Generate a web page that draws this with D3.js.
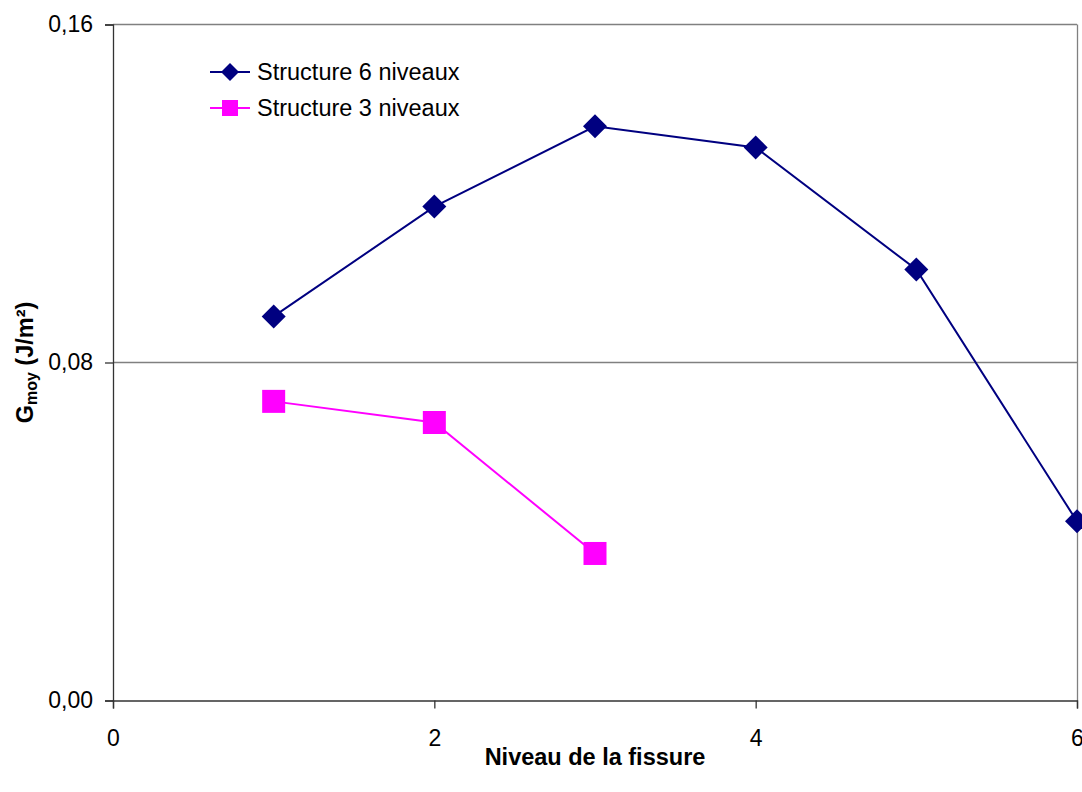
<!DOCTYPE html>
<html><head><meta charset="utf-8">
<script src="https://cdn.jsdelivr.net/npm/d3@7"></script>
<style>body{margin:0;background:#fff;} svg{display:block;font-family:Arial,"Liberation Sans",sans-serif;}</style>
</head><body><svg id="c" width="1082" height="792"></svg>
<script>
const xValues6 = [1, 2, 3, 4, 5, 6];
const values6 = [0.0909, 0.1169, 0.1359, 0.1309, 0.1020, 0.0424];
const xValues3 = [1, 2, 3];
const values3 = [0.0708, 0.0658, 0.0348];
const seriesNames = ["Structure 6 niveaux", "Structure 3 niveaux"];
const xTicks = [0, 2, 4, 6];
const yTicks = [0, 0.08, 0.16];

const svg = d3.select("#c");
const FF = "Arial,'Liberation Sans',sans-serif";
const L = 113, R = 1077, T = 24.5, B = 700.5;
const x = d3.scaleLinear().domain([0, 6]).range([L, R]);
const y = d3.scaleLinear().domain([0, 0.16]).range([B, T]);
const fmt = v => d3.format(".2f")(v).replace(".", ",");

// gridlines
svg.append("g").selectAll("line").data(yTicks.filter(d => d > 0)).join("line")
  .attr("x1", L).attr("x2", R).attr("y1", d => y(d)).attr("y2", d => y(d))
  .attr("stroke", "#808080").attr("stroke-width", 1.3);
// right border
svg.append("line").attr("x1", R + 0.5).attr("x2", R + 0.5).attr("y1", T).attr("y2", B)
  .attr("stroke", "#808080").attr("stroke-width", 1.3);

// y axis
const ya = svg.append("g").attr("transform", `translate(${L},0)`)
  .call(d3.axisLeft(y).tickValues(yTicks).tickFormat(fmt).tickSize(8).tickPadding(12));
ya.attr("font-size", 23).attr("font-family", FF);
ya.select(".domain").attr("stroke", "#333").attr("stroke-width", 1.3);
ya.selectAll(".tick line").attr("stroke", "#333").attr("stroke-width", 1.3);
ya.selectAll("text").attr("fill", "#000");

// x axis
const xa = svg.append("g").attr("transform", `translate(0,${B})`)
  .call(d3.axisBottom(x).tickValues(xTicks).tickFormat(d3.format("d")).tickSize(8).tickPadding(21));
xa.attr("font-size", 23).attr("font-family", FF);
xa.select(".domain").attr("stroke", "#333").attr("stroke-width", 1.3);
xa.selectAll(".tick line").attr("stroke", "#333").attr("stroke-width", 1.3);
xa.selectAll("text").attr("fill", "#000");

const line = d3.line().x(d => x(d[0])).y(d => y(d[1]));
const d6 = xValues6.map((v, i) => [v, values6[i]]);
const d3s = xValues3.map((v, i) => [v, values3[i]]);

svg.append("path").datum(d6).attr("d", line).attr("fill", "none").attr("stroke", "#000080").attr("stroke-width", 2);
svg.append("path").datum(d3s).attr("d", line).attr("fill", "none").attr("stroke", "#FF00FF").attr("stroke-width", 2);

const diamond = (cx, cy, r) => `M${cx},${cy - r}L${cx + r},${cy}L${cx},${cy + r}L${cx - r},${cy}Z`;
svg.append("g").selectAll("path").data(d6).join("path")
  .attr("d", d => diamond(x(d[0]), y(d[1]), 12)).attr("fill", "#000080");
svg.append("g").selectAll("rect").data(d3s).join("rect")
  .attr("x", d => x(d[0]) - 11.5).attr("y", d => y(d[1]) - 11.5)
  .attr("width", 23).attr("height", 23).attr("fill", "#FF00FF");

// legend
const leg = svg.append("g");
const ly = [72, 108];
leg.append("line").attr("x1", 210).attr("x2", 250).attr("y1", ly[0]).attr("y2", ly[0]).attr("stroke", "#000080").attr("stroke-width", 2);
leg.append("path").attr("d", diamond(230, ly[0], 9)).attr("fill", "#000080");
leg.append("line").attr("x1", 210).attr("x2", 250).attr("y1", ly[1]).attr("y2", ly[1]).attr("stroke", "#FF00FF").attr("stroke-width", 2);
leg.append("rect").attr("x", 222).attr("y", ly[1] - 8).attr("width", 16).attr("height", 16).attr("fill", "#FF00FF");
leg.selectAll("text").data(seriesNames).join("text")
  .attr("x", 257).attr("y", (d, i) => ly[i]).attr("dy", "0.35em")
  .attr("font-size", 23.5).attr("font-family", FF).attr("fill", "#000").text(d => d);

// axis titles
svg.append("text").attr("x", (L + R) / 2).attr("y", 765).attr("text-anchor", "middle")
  .attr("font-size", 23.5).attr("font-family", FF).attr("font-weight", "bold").text("Niveau de la fissure");
const yt = svg.append("text").attr("transform", `translate(33,${(T + B) / 2}) rotate(-90)`)
  .attr("text-anchor", "middle").attr("font-size", 23.5).attr("font-family", FF).attr("font-weight", "bold");
yt.append("tspan").text("G");
yt.append("tspan").attr("font-size", 16).attr("dy", 4).text("moy");
yt.append("tspan").attr("dy", -4).text(" (J/m²)");
</script></body></html>
